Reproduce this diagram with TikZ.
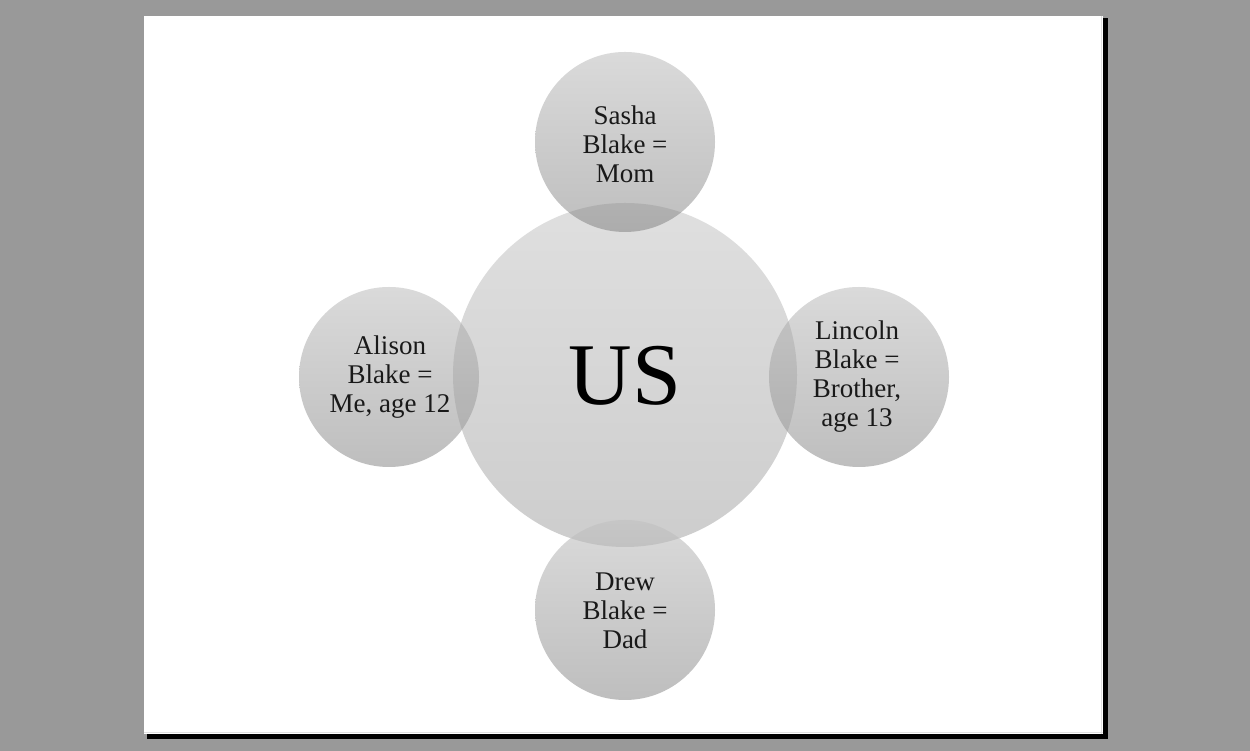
\documentclass[tikz,border=0pt]{standalone}
\usepackage{fontspec}
\setmainfont{Liberation Serif}
\definecolor{bggray}{HTML}{999999}
\definecolor{bigtop}{HTML}{DFDFDF}
\definecolor{bigbot}{HTML}{CDCDCD}
\definecolor{smtop}{HTML}{DADADA}
\definecolor{smbot}{HTML}{BEBEBE}
\begin{document}
\begin{tikzpicture}[x=1pt,y=1pt,
  bigball/.style={circle,inner sep=0pt,minimum size=344pt,top color=bigtop,bottom color=bigbot,draw=none},
  smallball/.style={circle,inner sep=0pt,minimum size=180pt,top color=smtop,bottom color=smbot,draw=none},
  lbl/.style={align=center,font=\fontsize{27}{29}\selectfont,text=black!90},
  overlap/.style={fill=black,fill opacity=0.09}]
\useasboundingbox (0,0) rectangle (1250,751);
\fill[bggray] (0,0) rectangle (1250,751);
% slide
\fill[black] (1103,12) rectangle (1108,733);
\fill[black] (147,12) rectangle (1108,17);
\fill[white] (144,17) rectangle (1103,735);
\draw[black!12,line width=1.5pt] (1101.5,17) -- (1101.5,735);
\draw[black!12,line width=1.5pt] (144,18.5) -- (1103,18.5);
% circles
\node[bigball] (us) at (625,376) {};
\node[smallball] (mom) at (625,609) {};
\node[smallball] (dad) at (625,141) {};
\node[smallball] (me) at (389,374) {};
\node[smallball] (bro) at (859,374) {};
% overlaps
\begin{scope}
\clip (625,376) circle (172);
\fill[overlap] (625,609) circle (90);
\fill[overlap] (625,141) circle (90);
\fill[overlap] (389,374) circle (90);
\fill[overlap] (859,374) circle (90);
\end{scope}
% texts
\node[font=\fontsize{88}{90}\selectfont,text=black] (ustext) at (625,375) {US};
\node[lbl] (momtext) at (625,607) {Sasha\\Blake =\\Mom};
\node[lbl] (dadtext) at (625,140) {Drew\\Blake =\\Dad};
\node[lbl] (metext) at (390,374) {Alison\\Blake =\\Me, age 12};
\node[lbl] (brotext) at (857,374) {Lincoln\\Blake =\\Brother,\\age 13};
\end{tikzpicture}
\end{document}
